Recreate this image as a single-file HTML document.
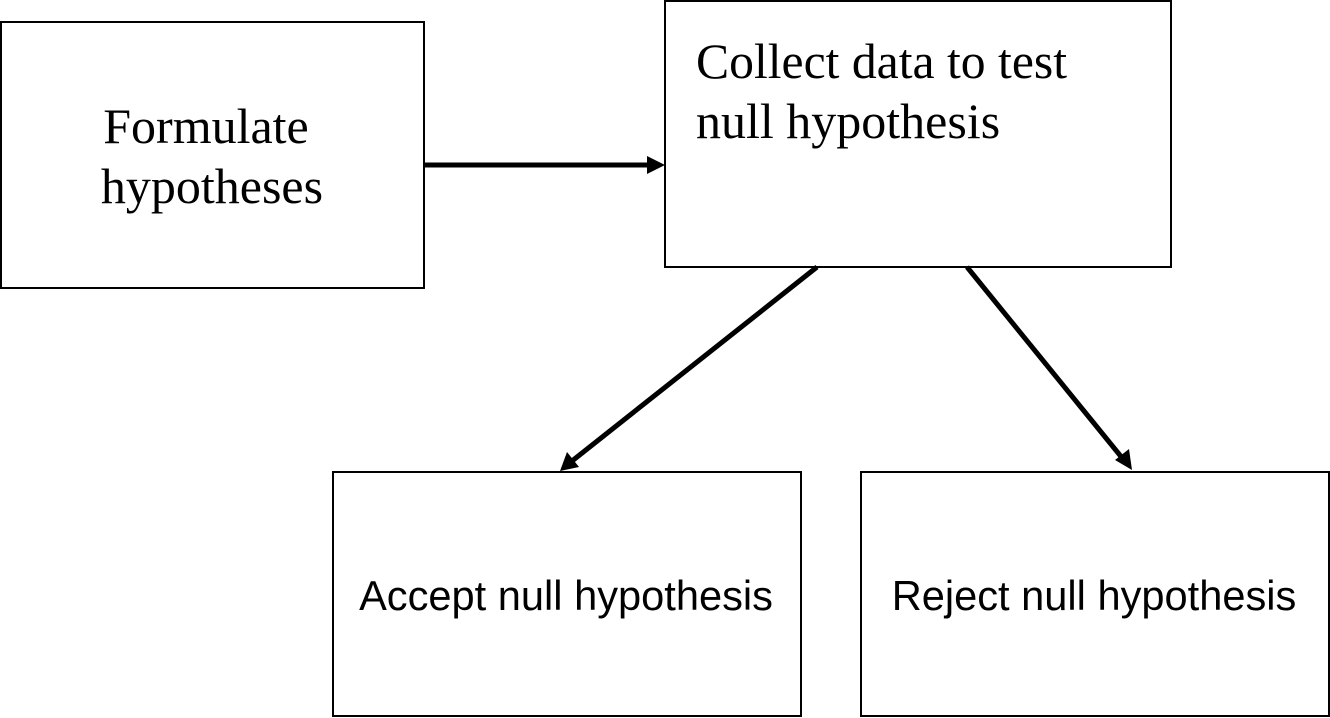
<!DOCTYPE html>
<html><head><meta charset="utf-8"><style>
html,body{margin:0;padding:0;background:#fff;}
svg{display:block;}
</style></head><body>
<svg width="1330" height="718" viewBox="0 0 1330 718" xmlns="http://www.w3.org/2000/svg">
<g fill="none" stroke="#000" stroke-width="2">
<rect x="1" y="22" width="423" height="266"/>
<rect x="665" y="1" width="506" height="266"/>
<rect x="333" y="472" width="468" height="244"/>
<rect x="861" y="472" width="468" height="244"/>
</g>
<g stroke="#000" stroke-width="5" fill="none">
<line x1="425" y1="165" x2="648" y2="165"/>
<line x1="817" y1="267" x2="572" y2="461"/>
<line x1="967" y1="267" x2="1123" y2="459"/>
</g>
<g fill="#000">
<polygon points="665,165 647,156 647,174"/>
<polygon points="560,471 567,452 579,467"/>
<polygon points="1132,470 1115,460 1129,449"/>
</g>
<g font-family="Liberation Serif, serif" font-size="50" fill="#000">
<text x="206" y="143" text-anchor="middle">Formulate</text>
<text x="212" y="203" text-anchor="middle">hypotheses</text>
<text x="696" y="78" textLength="371" lengthAdjust="spacingAndGlyphs">Collect data to test</text>
<text x="696" y="138">null hypothesis</text>
</g>
<g font-family="Liberation Sans, sans-serif" font-size="41.6" fill="#000">
<text x="566" y="610" text-anchor="middle">Accept null hypothesis</text>
<text x="1094" y="610" text-anchor="middle">Reject null hypothesis</text>
</g>
</svg>
</body></html>
